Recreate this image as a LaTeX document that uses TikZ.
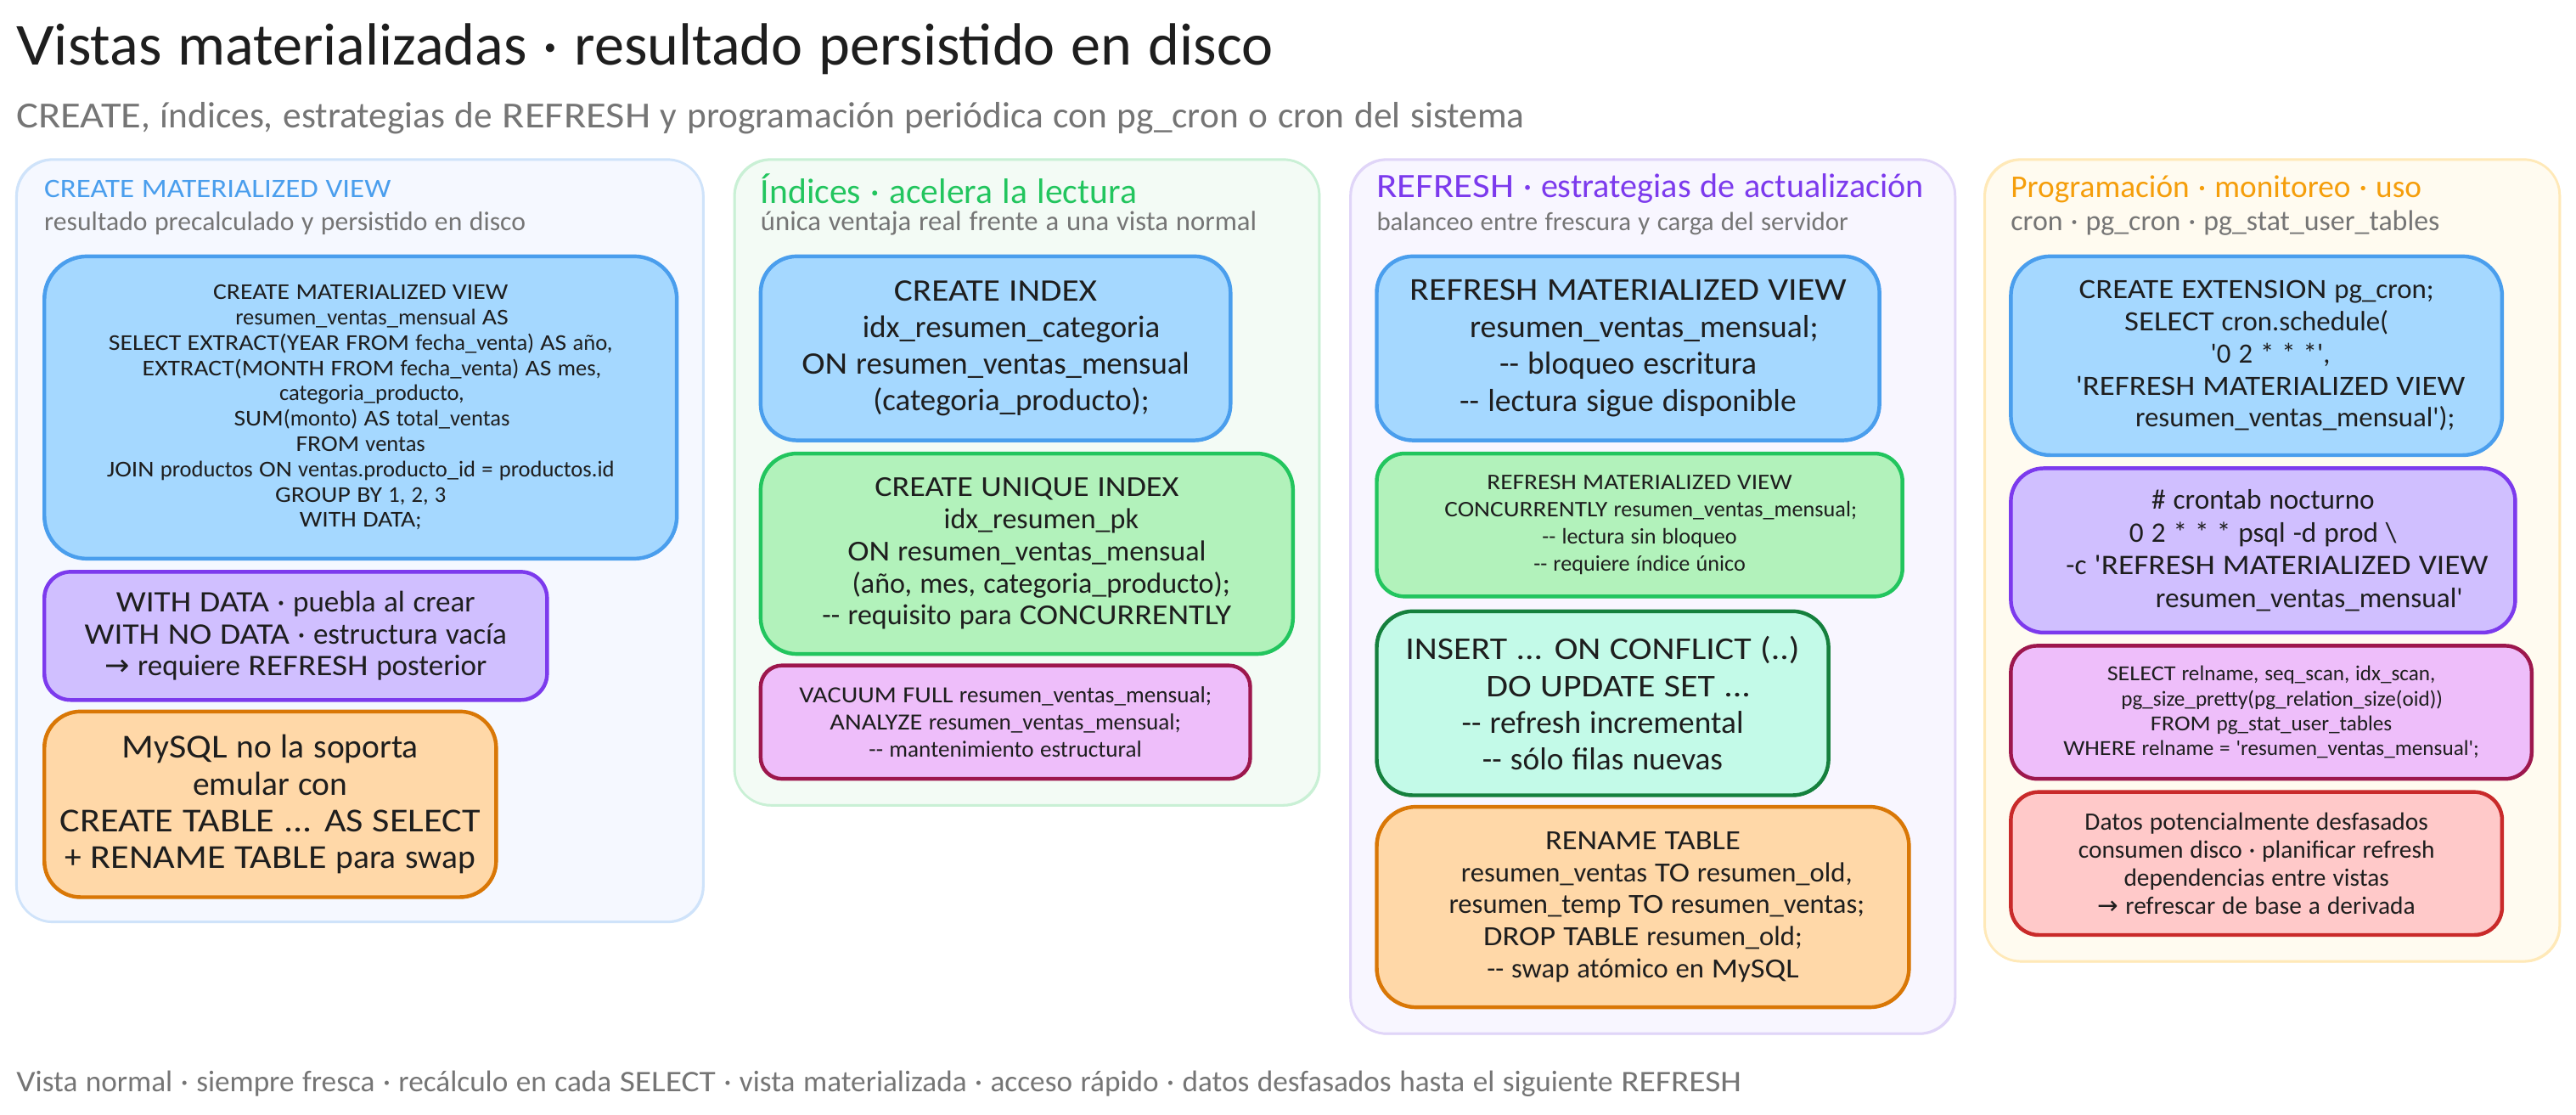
\documentclass[tikz,border=0pt]{standalone}
\usepackage{fontspec}
\newfontfamily\hand[WordSpace=1.2]{Carlito}
\newfontfamily\handw[FakeStretch=1.12,WordSpace=1.1]{Carlito}
\newfontfamily\symb{DejaVu Sans}
\newcommand\K[1]{{\handw #1}}
\definecolor{ink}{HTML}{1E1E1E}
\definecolor{mute}{HTML}{757575}
\definecolor{cBlue}{HTML}{4A9EED}\definecolor{fBlue}{HTML}{A5D8FF}
\definecolor{cPurp}{HTML}{7C3AED}\definecolor{fPurp}{HTML}{D0BFFF}
\definecolor{cOran}{HTML}{D97706}\definecolor{fOran}{HTML}{FFD8A8}
\definecolor{cGree}{HTML}{22C55E}\definecolor{fGree}{HTML}{B2F2BB}
\definecolor{cPink}{HTML}{9D174D}\definecolor{fPink}{HTML}{EEBEFA}
\definecolor{cTeal}{HTML}{15803D}\definecolor{fTeal}{HTML}{C3FAE8}
\definecolor{cRedd}{HTML}{C92A2A}\definecolor{fRedd}{HTML}{FFC9C9}
\definecolor{cAmbe}{HTML}{F59E0B}
\definecolor{pBlueF}{HTML}{F5F8FF}\definecolor{pBlueS}{HTML}{CFE3FA}
\definecolor{pGreeF}{HTML}{F3FBF5}\definecolor{pGreeS}{HTML}{C9F0D5}
\definecolor{pPurpF}{HTML}{F8F6FF}\definecolor{pPurpS}{HTML}{E0D5F8}
\definecolor{pAmbeF}{HTML}{FFFBF0}\definecolor{pAmbeS}{HTML}{FFE9B8}
\newlength\fitl
\newcommand\setfit[2]{\pgfinterruptpicture\settowidth\fitl{\hand\fontsize{10}{12}\selectfont #2}\global\fitl=\fitl\relax\endpgfinterruptpicture\pgfmathsetmacro\fitsz{10*(#1)/\fitl}}
\newcommand\ind[1][1]{\hspace*{#1em}}
\newcommand\arr{{\symb\char"2192}}
\tikzset{
 sketch/.style={postaction={draw,line width=.7pt,transform canvas={shift={(.5pt,-.5pt)}}}},
 cardbase/.style={rectangle,line width=2.3pt,inner sep=0pt,outer sep=0pt,align=center,text=ink,sketch},
 panelbase/.style={rectangle,line width=1.4pt,inner sep=0pt,outer sep=0pt,rounded corners=22pt,sketch},
 cblue/.style={cardbase,draw=cBlue,fill=fBlue},
 cpurp/.style={cardbase,draw=cPurp,fill=fPurp},
 coran/.style={cardbase,draw=cOran,fill=fOran},
 cgree/.style={cardbase,draw=cGree,fill=fGree},
 cpink/.style={cardbase,draw=cPink,fill=fPink},
 cteal/.style={cardbase,draw=cTeal,fill=fTeal},
 credd/.style={cardbase,draw=cRedd,fill=fRedd},
 pblue/.style={panelbase,draw=pBlueS,fill=pBlueF},
 pgree/.style={panelbase,draw=pGreeS,fill=pGreeF},
 ppurp/.style={panelbase,draw=pPurpS,fill=pPurpF},
 pambe/.style={panelbase,draw=pAmbeS,fill=pAmbeF},
 lab/.style={anchor=west,inner sep=0pt,outer sep=0pt},
}
% name x1 y1 x2 y2 style radius pitch text
\newcommand\card[9]{\node[#6,rounded corners=#7pt,minimum width={(#4-#2)*1pt},minimum height={(#5-#3)*1pt},
  font=\hand\fontsize{\fitsz}{#8}\selectfont] (#1) at ({(#2+#4)/2},{(#3+#5)/2}) {#9};}
\newcommand\pnl[6]{\node[#6,minimum width={(#4-#2)*1pt},minimum height={(#5-#3)*1pt}] (#1) at ({(#2+#4)/2},{(#3+#5)/2}) {};}
% name x y width colour text
\newcommand\lbl[6]{\setfit{#4}{#6}\node[lab,text=#5,font=\hand\fontsize{\fitsz}{\fitsz}\selectfont] (#1) at (#2,#3) {#6};}
\begin{document}
\begin{tikzpicture}[x=1pt,y=-1pt]
\useasboundingbox (0,0) rectangle (1568,678.57);
\fill[white] (0,0) rectangle (1568,678.57);
\lbl{title}{10}{30}{765}{ink}{\K{V}istas materializadas · resultado persistido en disco}
\lbl{subtitle}{10}{72}{918}{mute}{\K{CREATE}, índices, estrategias de \K{REFRESH} y programación periódica con pg\_cron o cron del sistema}
\lbl{footer}{10}{659.5}{1050}{mute}{\K{V}ista normal · siempre fresca · recálculo en cada \K{SELECT} · vista materializada · acceso rápido · datos desfasados hasta el siguiente \K{REFRESH}}
% panels
\pnl{pa}{10}{97}{428}{561}{pblue}
\pnl{pb}{447}{97}{803}{490}{pgree}
\pnl{pc}{822}{97}{1190}{629}{ppurp}
\pnl{pd}{1208}{97}{1558}{585}{pambe}
% panel headings
\lbl{ha}{27}{115}{211}{cBlue}{\K{CREATE MATERIALIZED VIEW}}
\lbl{sa}{27}{136}{293}{mute}{resultado precalculado y persistido en disco}
\lbl{hb}{463}{115}{229}{cGree}{Índices · acelera la lectura}
\lbl{sb}{463}{136}{302}{mute}{única ventaja real frente a una vista normal}
\lbl{hc}{838}{115}{333}{cPurp}{\K{REFRESH} · estrategias de actualización}
\lbl{sc}{838}{136}{287}{mute}{balanceo entre frescura y carga del servidor}
\lbl{hd}{1224}{115}{250}{cAmbe}{Programación · monitoreo · uso}
\lbl{sd}{1224}{136}{261}{mute}{cron · pg\_cron · pg\_stat\_user\_tables}
% panel 1
\setfit{309}{\K{JOIN} productos \K{ON} ventas.producto\_id = productos.id}
\card{a1}{27}{156}{412}{340}{cblue}{26}{15.4}{\K{CREATE MATERIALIZED VIEW}\\\ind resumen\_ventas\_mensual \K{AS}\\\K{SELECT EXTRACT(YEAR FROM} fecha\_venta) \K{AS} año,\\\ind \K{EXTRACT(MONTH FROM} fecha\_venta) \K{AS} mes,\\\ind categoria\_producto,\\\ind \K{SUM}(monto) \K{AS} total\_ventas\\\K{FROM} ventas\\\K{JOIN} productos \K{ON} ventas.producto\_id = productos.id\\\K{GROUP BY} 1, 2, 3\\\K{WITH DATA};}
\setfit{257}{\K{WITH NO DATA} · estructura vacía}
\card{a2}{27}{348}{333}{426}{cpurp}{16}{19.5}{\K{WITH DATA} · puebla al crear\\\K{WITH NO DATA} · estructura vacía\\\arr{} requiere \K{REFRESH} posterior}
\setfit{256}{\K{CREATE TABLE ... AS SELECT}}
\card{a3}{27}{433}{302}{546}{coran}{22}{22.3}{\K{M}y\K{SQL} no la soporta\\emular con\\\K{CREATE TABLE ... AS SELECT}\\+ \K{RENAME TABLE} para swap}
% panel 2
\setfit{236}{\K{ON} resumen\_ventas\_mensual}
\card{b1}{463}{156}{749}{268}{cblue}{22}{22.3}{\K{CREATE INDEX}\\\ind idx\_resumen\_categoria\\\K{ON} resumen\_ventas\_mensual\\\ind (categoria\_producto);}
\setfit{249}{-- requisito para \K{CONCURRENTLY}}
\card{b2}{463}{276}{787}{398}{cgree}{22}{19.5}{\K{CREATE UNIQUE INDEX}\\\ind idx\_resumen\_pk\\\K{ON} resumen\_ventas\_mensual\\\ind (año, mes, categoria\_producto);\\-- requisito para \K{CONCURRENTLY}}
\setfit{251}{\K{VACUUM FULL} resumen\_ventas\_mensual;}
\card{b3}{463}{405}{761}{474}{cpink}{13}{16.5}{\K{VACUUM FULL} resumen\_ventas\_mensual;\\\K{ANALYZE} resumen\_ventas\_mensual;\\-- mantenimiento estructural}
% panel 3
\setfit{266}{\K{REFRESH MATERIALIZED VIEW}}
\card{c1}{838}{156}{1144}{268}{cblue}{22}{22.5}{\K{REFRESH MATERIALIZED VIEW}\\\ind resumen\_ventas\_mensual;\\-- bloqueo escritura\\-- lectura sigue disponible}
\setfit{251}{\K{CONCURRENTLY} resumen\_ventas\_mensual;}
\card{c2}{838}{276}{1158}{363}{cgree}{17}{16.6}{\K{REFRESH MATERIALIZED VIEW}\\\ind \K{CONCURRENTLY} resumen\_ventas\_mensual;\\-- lectura sin bloqueo\\-- requiere índice único}
\setfit{240}{\K{INSERT ... ON CONFLICT (..)}}
\card{c3}{838}{372}{1113}{484}{cteal}{22}{22.3}{\K{INSERT ... ON CONFLICT (..)}\\\ind \K{DO UPDATE SET ...}\\-- refresh incremental\\-- sólo filas nuevas}
\setfit{253}{resumen\_temp \K{TO} resumen\_ventas;}
\card{c4}{838}{491}{1162}{613}{coran}{24}{19.6}{\K{RENAME TABLE}\\\ind resumen\_ventas \K{TO} resumen\_old,\\\ind resumen\_temp \K{TO} resumen\_ventas;\\\K{DROP TABLE} resumen\_old;\\-- swap atómico en \K{M}y\K{SQL}}
% panel 4
\setfit{237}{\K{'REFRESH MATERIALIZED VIEW}}
\card{d1}{1224}{156}{1523}{277}{cblue}{24}{19.5}{\K{CREATE EXTENSION} pg\_cron;\\\K{SELECT} cron.schedule(\\\ind '0 2 * * *',\\\ind \K{'REFRESH MATERIALIZED VIEW}\\\ind[2.5] resumen\_ventas\_mensual');}
\setfit{257}{-c \K{'REFRESH MATERIALIZED VIEW}}
\card{d2}{1224}{285}{1531}{385}{cpurp}{20}{20}{\# crontab nocturno\\0 2 * * * psql -d prod \textbackslash\\\ind -c \K{'REFRESH MATERIALIZED VIEW}\\\ind[3] resumen\_ventas\_mensual'}
\setfit{253}{\K{WHERE} relname = 'resumen\_ventas\_mensual';}
\card{d3}{1224}{393}{1541}{474}{cpink}{16}{15.2}{\K{SELECT} relname, seq\_scan, idx\_scan,\\\ind pg\_size\_pretty(pg\_relation\_size(oid))\\\K{FROM} pg\_stat\_user\_tables\\\K{WHERE} relname = 'resumen\_ventas\_mensual';}
\setfit{209}{Datos potencialmente desfasados}
\card{d4}{1224}{482}{1523}{569}{credd}{17}{17}{Datos potencialmente desfasados\\consumen disco · planificar refresh\\dependencias entre vistas\\\arr{} refrescar de base a derivada}
\end{tikzpicture}
\end{document}
